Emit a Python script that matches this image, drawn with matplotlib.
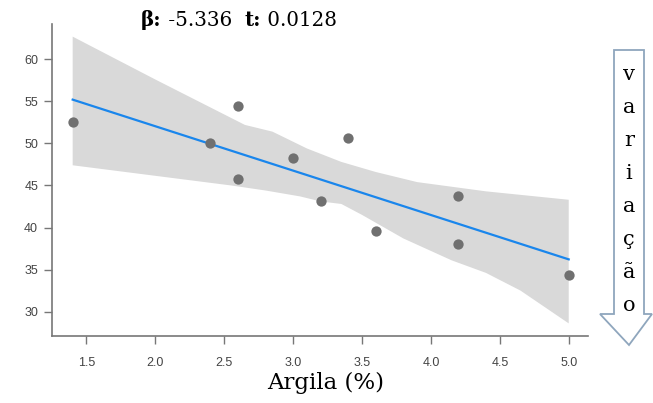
import numpy as np
import matplotlib.pyplot as plt
from matplotlib.patches import Polygon

# pontos (argila x valor)
argila = [1.4, 2.4, 2.6, 2.6, 3.0, 3.2, 3.4, 3.6, 4.2, 4.2, 5.0]
valor = [52.5, 50.1, 54.5, 45.8, 48.3, 43.1, 50.7, 39.6, 43.8, 38.0, 34.3]

# faixa de confianca (bootstrap), contornos
sup_x = [1.4, 2.0, 2.65, 2.85, 3.1, 3.35, 3.6, 3.9, 4.4, 5.0]
sup_y = [62.7, 57.6, 52.2, 51.4, 49.4, 47.8, 46.6, 45.4, 44.3, 43.3]
inf_x = [1.4, 2.55, 2.8, 3.05, 3.2, 3.35, 3.5, 3.8, 4.15, 4.4, 4.65, 5.0]
inf_y = [47.4, 45.0, 44.4, 43.7, 43.1, 42.8, 41.5, 38.7, 36.1, 34.6, 32.5, 28.6]

xticks = [1.5, 2.0, 2.5, 3.0, 3.5, 4.0, 4.5, 5.0]
yticks = [30, 35, 40, 45, 50, 55, 60]
letras = list("variação")

W, H = 653, 403
fig = plt.figure(figsize=(W / 100, H / 100), dpi=100)
ax = fig.add_axes([52 / W, 1 - 336 / H, 536 / W, 312 / H])

ax.fill(sup_x + inf_x[::-1], sup_y + inf_y[::-1], color="#d9d9d9", lw=0, zorder=1)

b, a = np.polyfit(argila, valor, 1)
xs = np.array([min(argila), max(argila)])
ax.plot(xs, a + b * xs, color="#1a86ec", lw=1.6, zorder=2)
ax.scatter(argila, valor, s=55, color="#707070", linewidths=0, zorder=3)

ax.set_xlim(1.25, 5.14)
ax.set_ylim(27.1, 64.2)
ax.set_xticks(xticks)
ax.set_xticklabels([f"{v:.1f}" for v in xticks])
ax.set_yticks(yticks)
for s in ["top", "right"]:
    ax.spines[s].set_visible(False)
for s in ["left", "bottom"]:
    ax.spines[s].set_color("#777777")
    ax.spines[s].set_linewidth(1.2)
ax.tick_params(direction="out", length=6, width=1, color="#777777",
               labelcolor="#444444", labelsize=9)
ax.tick_params(axis="x", pad=9)
ax.tick_params(axis="y", pad=4)
for lab in ax.get_xticklabels() + ax.get_yticklabels():
    lab.set_fontfamily("Liberation Sans")

fig.text(326 / W, 1 - 383 / H, "Argila (%)", family="DejaVu Serif",
         fontsize=16.5, ha="center", va="center")

# titulo: beta e t em negrito
serif = "DejaVu Serif"
t1 = fig.text(141 / W, 1 - 26 / H, "β:", family=serif, fontweight="bold",
              fontsize=14.3, va="baseline")
t2 = ax.annotate(" -5.336  ", xy=(1, 0), xycoords=t1, va="bottom",
                 family=serif, fontsize=14.3, annotation_clip=False)
t3 = ax.annotate("t:", xy=(1, 0), xycoords=t2, va="bottom",
                 family=serif, fontweight="bold", fontsize=14.3, annotation_clip=False)
ax.annotate(" 0.0128", xy=(1, 0), xycoords=t3, va="bottom",
            family=serif, fontsize=14.3, annotation_clip=False)

# seta "variação" a direita
seta = [(614, 50), (644, 50), (644, 314), (652, 314), (629, 345),
        (600, 314), (614, 314)]
seta = [(x / W, 1 - y / H) for x, y in seta]
fig.patches.append(Polygon(seta, closed=True, facecolor="white",
                           edgecolor="#8fa6bd", lw=1.3,
                           transform=fig.transFigure, figure=fig))
for i, c in enumerate(letras):
    fig.text(629 / W, 1 - (75 + i * 32.9) / H, c, family=serif, fontsize=15,
             ha="center", va="center")

fig.savefig("out.png", dpi=100)
